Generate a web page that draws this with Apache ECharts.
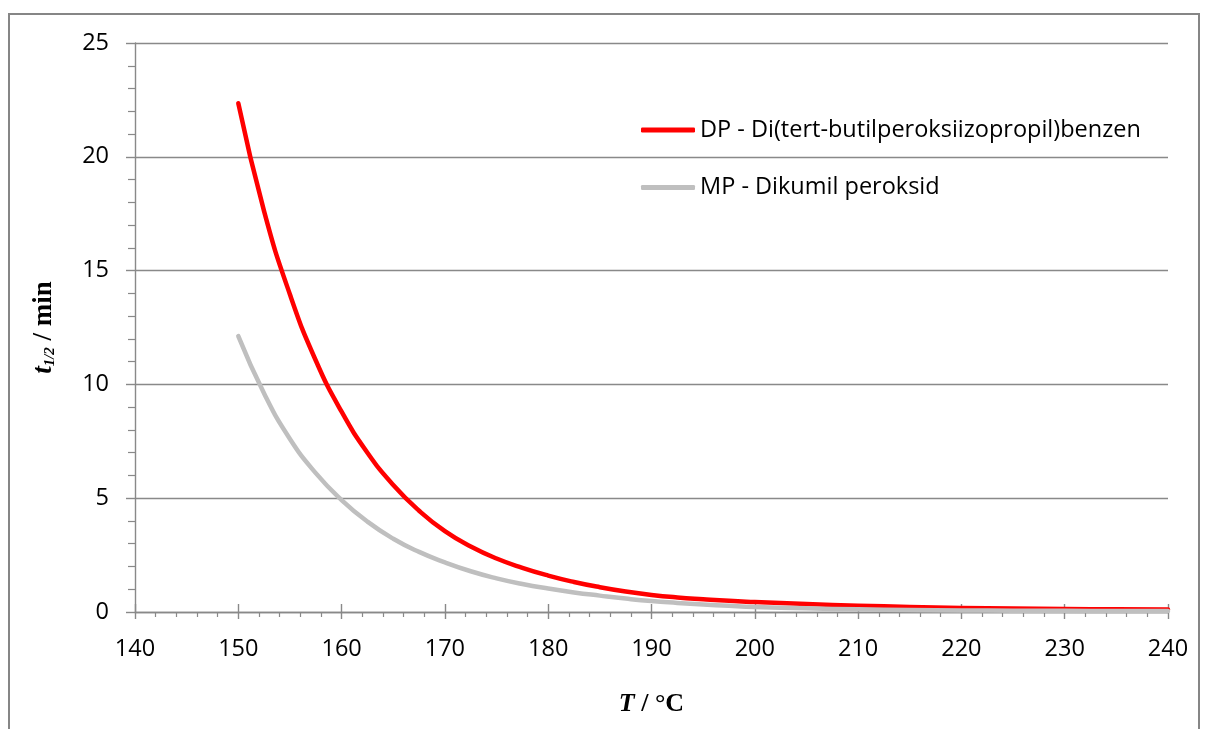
<!DOCTYPE html>
<html>
<head>
<meta charset="utf-8">
<script src="https://cdn.jsdelivr.net/npm/echarts@6/dist/echarts.min.js"></script>
<style>
  html, body { margin: 0; padding: 0; background: #fff; }
  #chart { width: 1206px; height: 729px; }
</style>
</head>
<body>
<div id="chart"></div>
<script>
// temperature, °C
const temps = [150, 152.5, 155, 157.5, 160, 162.5, 165, 167.5, 170, 172.5, 175, 177.5, 180, 182.5, 185, 187.5, 190, 192.5, 195, 197.5, 200,
  205, 210, 215, 220, 225, 230, 235, 240]
// half-life t1/2, min
const dpValues = [22.35, 17.6, 13.95, 11.05, 8.8, 7.0, 5.58, 4.45, 3.55, 2.88, 2.35, 1.94, 1.6, 1.32, 1.09, 0.9, 0.75, 0.64, 0.56, 0.49, 0.44,
  0.35, 0.28, 0.22, 0.18, 0.15, 0.13, 0.12, 0.11]
const mpValues = [12.12, 9.6, 7.6, 6.1, 4.92, 3.97, 3.22, 2.64, 2.18, 1.79, 1.48, 1.23, 1.03, 0.86, 0.72, 0.59, 0.48, 0.4, 0.33, 0.27, 0.22,
  0.16, 0.12, 0.09, 0.07, 0.06, 0.05, 0.045, 0.04]
const xTicks = [140, 150, 160, 170, 180, 190, 200, 210, 220, 230, 240]
const yTicks = [0, 5, 10, 15, 20, 25]

const dpName = 'DP - Di(tert-butilperoksiizopropil)benzen'
const mpName = 'MP - Dikumil peroksid'

const axisColor = '#898989'
const labelFont = 'Open Sans'
const labelSize = 23.5

const chart = echarts.init(document.getElementById('chart'))

const option = {
  backgroundColor: '#fff',
  animation: false,
  grid: { left: 135, right: 38, top: 43, bottom: 117 },
  graphic: [{
    type: 'rect',
    shape: { x: 9, y: 14, width: 1190, height: 730 },
    style: { fill: 'none', stroke: '#868686', lineWidth: 2 },
    silent: true
  }],
  legend: {
    orient: 'vertical',
    left: 636,
    top: 113,
    itemWidth: 54,
    itemHeight: 5,
    itemGap: 33.5,
    icon: 'roundRect',
    textStyle: { fontFamily: labelFont, fontSize: labelSize, color: '#000' },
    data: [dpName, mpName]
  },
  xAxis: [{
    type: 'value',
    min: xTicks[0],
    max: xTicks[xTicks.length - 1],
    interval: 10,
    name: '{i|T}{b| / °C}',
    nameLocation: 'middle',
    nameGap: 79,
    nameTextStyle: {
      rich: {
        i: { fontFamily: 'Liberation Serif', fontWeight: 'bold', fontStyle: 'italic', fontSize: 26, color: '#000' },
        b: { fontFamily: 'Liberation Serif', fontWeight: 'bold', fontSize: 26, color: '#000' }
      }
    },
    axisLine: { show: true, lineStyle: { color: axisColor, width: 1.4 } },
    axisTick: { show: true, length: 7, lineStyle: { color: axisColor, width: 1.4 } },
    minorTick: { show: true, splitNumber: 5, length: 5, lineStyle: { color: axisColor, width: 1.2 } },
    axisLabel: { margin: 25, fontFamily: labelFont, fontSize: labelSize, color: '#000' },
    splitLine: { show: false }
  }, {
    // inner half of the crossing major ticks
    type: 'value',
    position: 'bottom',
    min: xTicks[0],
    max: xTicks[xTicks.length - 1],
    interval: 10,
    axisLine: { show: false },
    axisTick: { show: true, inside: true, length: 8, lineStyle: { color: axisColor, width: 1.4 } },
    axisLabel: { show: false },
    splitLine: { show: false }
  }],
  yAxis: {
    type: 'value',
    min: yTicks[0],
    max: yTicks[yTicks.length - 1],
    interval: 5,
    name: '{t|t}{s|1/2}{b| / min}',
    nameLocation: 'middle',
    nameRotate: 90,
    nameGap: 77,
    nameTextStyle: {
      rich: {
        t: { fontFamily: 'Liberation Serif', fontWeight: 'bold', fontStyle: 'italic', fontSize: 27, color: '#000' },
        s: { fontFamily: 'Liberation Serif', fontWeight: 'bold', fontStyle: 'italic', fontSize: 15, color: '#000', verticalAlign: 'bottom', padding: [10, 0, 0, 0] },
        b: { fontFamily: 'Liberation Serif', fontWeight: 'bold', fontSize: 27, color: '#000' }
      }
    },
    axisLine: { show: true, lineStyle: { color: axisColor, width: 1.4 } },
    axisTick: { show: true, length: 9, lineStyle: { color: axisColor, width: 1.4 } },
    minorTick: { show: true, splitNumber: 5, length: 7, lineStyle: { color: axisColor, width: 1.2 } },
    axisLabel: { margin: 26, fontFamily: labelFont, fontSize: labelSize, color: '#000' },
    splitLine: { show: true, lineStyle: { color: axisColor, width: 1.4 } }
  },
  series: [{
    name: dpName,
    type: 'line',
    data: temps.map((T, i) => [T, dpValues[i]]),
    smooth: 0.5,
    showSymbol: false,
    symbol: 'none',
    itemStyle: { color: '#ff0000' },
    lineStyle: { color: '#ff0000', width: 4.5, cap: 'round', join: 'round' }
  }, {
    name: mpName,
    type: 'line',
    data: temps.map((T, i) => [T, mpValues[i]]),
    smooth: 0.5,
    showSymbol: false,
    symbol: 'none',
    itemStyle: { color: '#bfbfbf' },
    lineStyle: { color: '#bfbfbf', width: 4.5, cap: 'round', join: 'round' }
  }]
}

chart.setOption(option)
</script>
</body>
</html>
